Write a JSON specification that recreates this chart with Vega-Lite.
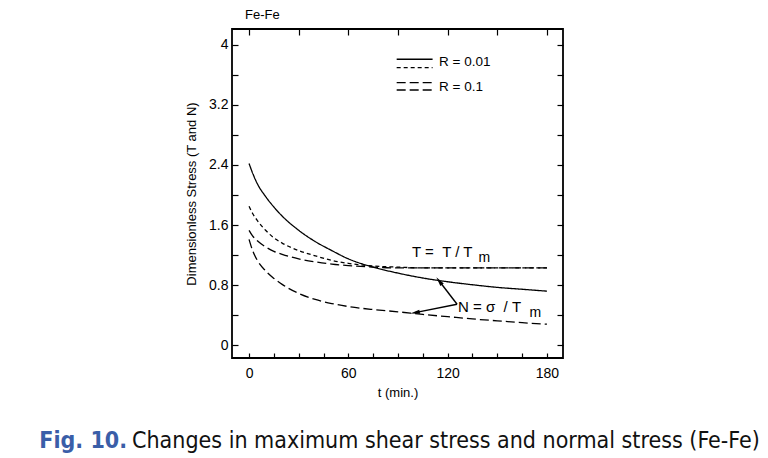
{
  "$schema": "https://vega.github.io/schema/vega-lite/v6.json",
  "width": 331,
  "height": 329,
  "autosize": {"type": "none"},
  "padding": {"left": 232, "top": 29, "right": 205, "bottom": 100},
  "background": "white",
  "title": {"text": "Fe-Fe", "anchor": "start", "frame": "group", "dx": 13, "offset": 6, "fontSize": 13, "font": "Liberation Sans", "fontWeight": "normal", "color": "black"},
  "config": {
    "font": "Liberation Sans",
    "view": {"stroke": "black", "strokeWidth": 1.8},
    "axis": {"grid": false, "domain": false, "tickColor": "black", "tickWidth": 1.2, "labelColor": "black", "titleColor": "black", "labelFont": "Liberation Sans", "titleFont": "Liberation Sans", "labelFontSize": 14, "titleFontSize": 13, "titleFontWeight": "normal"}
  },
  "datasets": {
    "curves": [
      {"series": "N, R = 0.01", "t": 0, "v": 2.42}, {"series": "N, R = 0.01", "t": 2, "v": 2.30}, {"series": "N, R = 0.01", "t": 5, "v": 2.15}, {"series": "N, R = 0.01", "t": 10, "v": 1.98}, {"series": "N, R = 0.01", "t": 15, "v": 1.84}, {"series": "N, R = 0.01", "t": 20, "v": 1.72}, {"series": "N, R = 0.01", "t": 30, "v": 1.53}, {"series": "N, R = 0.01", "t": 40, "v": 1.38}, {"series": "N, R = 0.01", "t": 50, "v": 1.26}, {"series": "N, R = 0.01", "t": 60, "v": 1.15}, {"series": "N, R = 0.01", "t": 75, "v": 1.04}, {"series": "N, R = 0.01", "t": 90, "v": 0.96}, {"series": "N, R = 0.01", "t": 105, "v": 0.895}, {"series": "N, R = 0.01", "t": 120, "v": 0.845}, {"series": "N, R = 0.01", "t": 135, "v": 0.805}, {"series": "N, R = 0.01", "t": 150, "v": 0.77}, {"series": "N, R = 0.01", "t": 165, "v": 0.745}, {"series": "N, R = 0.01", "t": 180, "v": 0.72},
      {"series": "T, R = 0.01", "t": 0, "v": 1.85}, {"series": "T, R = 0.01", "t": 2, "v": 1.76}, {"series": "T, R = 0.01", "t": 5, "v": 1.66}, {"series": "T, R = 0.01", "t": 10, "v": 1.53}, {"series": "T, R = 0.01", "t": 15, "v": 1.43}, {"series": "T, R = 0.01", "t": 20, "v": 1.36}, {"series": "T, R = 0.01", "t": 30, "v": 1.26}, {"series": "T, R = 0.01", "t": 40, "v": 1.19}, {"series": "T, R = 0.01", "t": 50, "v": 1.13}, {"series": "T, R = 0.01", "t": 60, "v": 1.09}, {"series": "T, R = 0.01", "t": 75, "v": 1.055}, {"series": "T, R = 0.01", "t": 90, "v": 1.04}, {"series": "T, R = 0.01", "t": 105, "v": 1.03}, {"series": "T, R = 0.01", "t": 120, "v": 1.03}, {"series": "T, R = 0.01", "t": 135, "v": 1.03}, {"series": "T, R = 0.01", "t": 150, "v": 1.03}, {"series": "T, R = 0.01", "t": 165, "v": 1.03}, {"series": "T, R = 0.01", "t": 180, "v": 1.03},
      {"series": "T, R = 0.1", "t": 0, "v": 1.53}, {"series": "T, R = 0.1", "t": 2, "v": 1.46}, {"series": "T, R = 0.1", "t": 5, "v": 1.39}, {"series": "T, R = 0.1", "t": 10, "v": 1.31}, {"series": "T, R = 0.1", "t": 15, "v": 1.25}, {"series": "T, R = 0.1", "t": 20, "v": 1.21}, {"series": "T, R = 0.1", "t": 30, "v": 1.15}, {"series": "T, R = 0.1", "t": 40, "v": 1.11}, {"series": "T, R = 0.1", "t": 50, "v": 1.08}, {"series": "T, R = 0.1", "t": 60, "v": 1.06}, {"series": "T, R = 0.1", "t": 75, "v": 1.04}, {"series": "T, R = 0.1", "t": 90, "v": 1.03}, {"series": "T, R = 0.1", "t": 105, "v": 1.03}, {"series": "T, R = 0.1", "t": 120, "v": 1.03}, {"series": "T, R = 0.1", "t": 135, "v": 1.03}, {"series": "T, R = 0.1", "t": 150, "v": 1.03}, {"series": "T, R = 0.1", "t": 165, "v": 1.03}, {"series": "T, R = 0.1", "t": 180, "v": 1.03},
      {"series": "N, R = 0.1", "t": 0, "v": 1.41}, {"series": "N, R = 0.1", "t": 2, "v": 1.27}, {"series": "N, R = 0.1", "t": 5, "v": 1.13}, {"series": "N, R = 0.1", "t": 10, "v": 0.99}, {"series": "N, R = 0.1", "t": 15, "v": 0.89}, {"series": "N, R = 0.1", "t": 20, "v": 0.81}, {"series": "N, R = 0.1", "t": 30, "v": 0.69}, {"series": "N, R = 0.1", "t": 40, "v": 0.61}, {"series": "N, R = 0.1", "t": 50, "v": 0.555}, {"series": "N, R = 0.1", "t": 60, "v": 0.515}, {"series": "N, R = 0.1", "t": 75, "v": 0.475}, {"series": "N, R = 0.1", "t": 90, "v": 0.445}, {"series": "N, R = 0.1", "t": 105, "v": 0.41}, {"series": "N, R = 0.1", "t": 120, "v": 0.38}, {"series": "N, R = 0.1", "t": 135, "v": 0.35}, {"series": "N, R = 0.1", "t": 150, "v": 0.325}, {"series": "N, R = 0.1", "t": 165, "v": 0.30}, {"series": "N, R = 0.1", "t": 180, "v": 0.28}
    ],
    "legendLines": [
      {"series": "N, R = 0.01", "t1": 89.2, "t2": 110.9, "v": 3.807},
      {"series": "T, R = 0.01", "t1": 89.2, "t2": 110.9, "v": 3.696},
      {"series": "T, R = 0.1", "t1": 89.2, "t2": 110.9, "v": 3.497},
      {"series": "N, R = 0.1", "t1": 89.2, "t2": 110.9, "v": 3.398}
    ],
    "legendText": [
      {"label": "R = 0.01", "t": 114.8, "v": 3.714},
      {"label": "R = 0.1", "t": 114.8, "v": 3.38}
    ],
    "notes": [
      {"label": "T =\u00a0\u00a0T / T", "t": 98.5, "v": 1.17},
      {"label": "N = σ\u00a0\u00a0/ T", "t": 126.3, "v": 0.438}
    ],
    "subs": [
      {"label": "m", "t": 138.6, "v": 1.104},
      {"label": "m", "t": 169.4, "v": 0.371}
    ],
    "arrows": [
      {"t1": 125.7, "v1": 0.545, "t2": 114.9, "v2": 0.855},
      {"t1": 125.7, "v1": 0.545, "t2": 100.3, "v2": 0.434}
    ],
    "caption1": [{"label": "Fig. 10.", "t": -73.7, "v": -1.373}],
    "caption2": [{"label": "Changes in maximum shear stress and normal stress (Fe-Fe)", "t": -70.7, "v": -1.373}]
  },
  "resolve": {"axis": {"x": "independent", "y": "independent"}},
  "layer": [
    {
      "data": {"name": "curves"},
      "mark": {"type": "line", "color": "black", "strokeWidth": 1.3, "interpolate": "monotone"},
      "encoding": {
        "x": {"field": "t", "type": "quantitative", "scale": {"domain": [-10.3, 189.7], "nice": false, "zero": false},
          "axis": {"orient": "bottom", "values": [0, 15, 30, 45, 60, 75, 90, 105, 120, 135, 150, 165, 180], "labelExpr": "datum.value % 60 === 0 ? datum.label : ''", "tickSize": -5, "labelPadding": 13, "title": "t (min.)", "titlePadding": 6}},
        "y": {"field": "v", "type": "quantitative", "scale": {"domain": [-0.17, 4.21], "nice": false, "zero": false},
          "axis": {"orient": "left", "values": [0, 0.4, 0.8, 1.2, 1.6, 2.0, 2.4, 2.8, 3.2, 3.6, 4.0], "labelExpr": "round(datum.value * 10) % 8 === 0 ? format(datum.value, '~g') : ''", "tickSize": -6, "labelPadding": 10, "title": "Dimensionless Stress (T and N)", "titlePadding": 10}},
        "strokeDash": {"field": "series", "type": "nominal", "scale": {"domain": ["N, R = 0.01", "T, R = 0.01", "T, R = 0.1", "N, R = 0.1"], "range": [[1, 0], [4, 3], [9, 4], [9, 4]]}, "legend": null},
        "detail": {"field": "series"}
      }
    },
    {
      "data": {"name": "legendLines"},
      "mark": {"type": "rule", "color": "black", "strokeWidth": 1.3},
      "encoding": {
        "x": {"field": "t1", "type": "quantitative",
          "axis": {"orient": "top", "values": [0, 30, 60, 90, 120, 150, 180], "labels": false, "tickSize": -6, "title": null}},
        "x2": {"field": "t2"},
        "y": {"field": "v", "type": "quantitative",
          "axis": {"orient": "right", "values": [0, 0.4, 0.8, 1.2, 1.6, 2.0, 2.4, 2.8, 3.2, 3.6, 4.0], "labels": false, "tickSize": -6, "title": null}},
        "strokeDash": {"field": "series", "type": "nominal", "legend": null}
      }
    },
    {
      "data": {"name": "legendText"},
      "mark": {"type": "text", "align": "left", "baseline": "alphabetic", "fontSize": 13.5, "color": "black"},
      "encoding": {
        "x": {"field": "t", "type": "quantitative", "axis": null},
        "y": {"field": "v", "type": "quantitative", "axis": null},
        "text": {"field": "label"}
      }
    },
    {
      "data": {"name": "notes"},
      "mark": {"type": "text", "align": "left", "baseline": "alphabetic", "fontSize": 15, "color": "black"},
      "encoding": {
        "x": {"field": "t", "type": "quantitative", "axis": null},
        "y": {"field": "v", "type": "quantitative", "axis": null},
        "text": {"field": "label"}
      }
    },
    {
      "data": {"name": "subs"},
      "mark": {"type": "text", "align": "left", "baseline": "alphabetic", "fontSize": 14, "color": "black"},
      "encoding": {
        "x": {"field": "t", "type": "quantitative", "axis": null},
        "y": {"field": "v", "type": "quantitative", "axis": null},
        "text": {"field": "label"}
      }
    },
    {
      "data": {"name": "arrows"},
      "mark": {"type": "rule", "color": "black", "strokeWidth": 1.4},
      "encoding": {
        "x": {"field": "t1", "type": "quantitative", "axis": null},
        "y": {"field": "v1", "type": "quantitative", "axis": null},
        "x2": {"field": "t2"},
        "y2": {"field": "v2"}
      }
    },
    {
      "data": {"name": "arrows"},
      "transform": [{"filter": "datum.v2 > 0.6"}],
      "mark": {"type": "point", "shape": "M0,-1L0.45,1L-0.45,1Z", "filled": true, "color": "black", "size": 90, "opacity": 1, "angle": 323},
      "encoding": {
        "x": {"field": "t2", "type": "quantitative", "axis": null},
        "y": {"field": "v2", "type": "quantitative", "axis": null}
      }
    },
    {
      "data": {"name": "arrows"},
      "transform": [{"filter": "datum.v2 < 0.6"}],
      "mark": {"type": "point", "shape": "M0,-1L0.45,1L-0.45,1Z", "filled": true, "color": "black", "size": 90, "opacity": 1, "angle": 259},
      "encoding": {
        "x": {"field": "t2", "type": "quantitative", "axis": null},
        "y": {"field": "v2", "type": "quantitative", "axis": null}
      }
    },
    {
      "data": {"name": "caption1"},
      "mark": {"type": "text", "align": "right", "baseline": "alphabetic", "fontSize": 23, "fontWeight": "bold", "font": "DejaVu Sans Condensed, Open Sans", "color": "#3a5ea8"},
      "encoding": {
        "x": {"field": "t", "type": "quantitative", "axis": null},
        "y": {"field": "v", "type": "quantitative", "axis": null},
        "text": {"field": "label"}
      }
    },
    {
      "data": {"name": "caption2"},
      "mark": {"type": "text", "align": "left", "baseline": "alphabetic", "fontSize": 23, "font": "DejaVu Sans Condensed, Open Sans", "color": "#111111"},
      "encoding": {
        "x": {"field": "t", "type": "quantitative", "axis": null},
        "y": {"field": "v", "type": "quantitative", "axis": null},
        "text": {"field": "label"}
      }
    }
  ]
}
